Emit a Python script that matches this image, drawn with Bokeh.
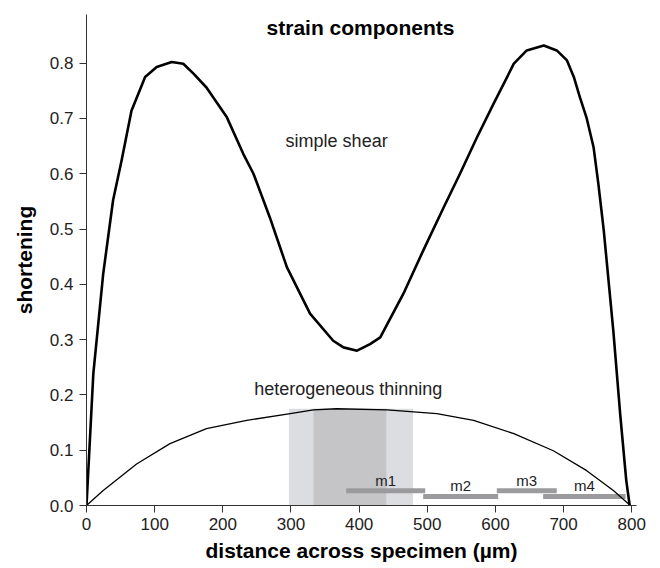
from bokeh.plotting import figure
from bokeh.models import Range1d, FixedTicker, PrintfTickFormatter, Label, ColumnDataSource
from bokeh.core.properties import value
from bokeh.embed import file_html
from bokeh.resources import INLINE

FONT = "Liberation Sans"

# simple shear curve
shear_x = [0, 10, 24.5, 39, 51.5, 66, 86, 103, 125, 142, 157, 176, 206, 230, 245, 269, 284,
           294, 328, 362, 377, 397, 416, 431, 465, 494, 524, 548, 573, 597, 627, 646, 671,
           690, 705, 715, 724, 734, 744, 751, 759, 773, 783, 792, 797]
shear_y = [0, 0.238, 0.419, 0.552, 0.624, 0.714, 0.775, 0.793, 0.802, 0.799, 0.781, 0.756,
           0.702, 0.636, 0.600, 0.521, 0.467, 0.431, 0.347, 0.298, 0.286, 0.280, 0.292,
           0.304, 0.383, 0.461, 0.539, 0.600, 0.666, 0.726, 0.799, 0.823, 0.832, 0.823,
           0.805, 0.775, 0.738, 0.700, 0.648, 0.582, 0.497, 0.316, 0.166, 0.045, 0.0]

# heterogeneous thinning curve
thin_x = [0, 24.5, 73.5, 122.5, 176, 235, 299, 333, 367, 441, 514, 568, 627, 685, 734, 773, 798]
thin_y = [0, 0.027, 0.075, 0.112, 0.139, 0.154, 0.166, 0.173, 0.175, 0.173, 0.166, 0.154,
          0.130, 0.099, 0.063, 0.027, 0]

# shaded ranges
shade_left = [297, 333]
shade_right = [479, 440]
shade_top = [0.175, 0.175]
shade_colors = ["#dcdde0", "#c5c5c8"]

# measurement windows
m_names = ["m1", "m2", "m3", "m4"]
m_start = [381, 494, 602, 670]
m_end = [497, 604, 690, 791]
m_level = [0.0266, 0.0163, 0.0266, 0.0163]
m_label_y = [0.046, 0.036, 0.046, 0.036]

x_ticks = [0, 100, 200, 300, 400, 500, 600, 700, 800]
y_ticks = [0.0, 0.1, 0.2, 0.3, 0.4, 0.5, 0.6, 0.7, 0.8]

p = figure(width=660, height=568, output_backend="svg", toolbar_location=None,
           x_range=Range1d(0, 807), y_range=Range1d(0, 0.888),
           min_border_left=86, min_border_right=24, min_border_top=14, min_border_bottom=63)
p.outline_line_color = None
p.xgrid.visible = False
p.ygrid.visible = False
p.background_fill_color = "white"
p.border_fill_color = "white"

p.quad(left=shade_left, right=shade_right, bottom=0, top=shade_top,
       fill_color=shade_colors, line_color=None)

msrc = ColumnDataSource(dict(name=m_names, start=m_start, end=m_end, y=m_level,
                             ly=m_label_y,
                             mid=[(a + b) / 2 for a, b in zip(m_start, m_end)]))
p.hbar(y="y", left="start", right="end", height=0.0088, source=msrc,
       fill_color="#9b9b9d", line_color=None)
p.text(x="mid", y="ly", text="name", source=msrc, text_align="center",
       text_baseline="middle", text_font=value(FONT), text_font_size="15px",
       text_color="#222222")

p.line(thin_x, thin_y, line_color="black", line_width=1.3, line_join="round")
p.line(shear_x, shear_y, line_color="black", line_width=2.6, line_join="round")

p.add_layout(Label(x=402, y=0.864, text="strain components", text_align="center",
                   text_baseline="middle", text_font=FONT, text_font_size="21px",
                   text_font_style="bold", text_color="black"))
p.add_layout(Label(x=367, y=0.66, text="simple shear", text_align="center",
                   text_baseline="middle", text_font=FONT, text_font_size="18px",
                   text_color="#222222"))
p.add_layout(Label(x=384, y=0.21, text="heterogeneous thinning", text_align="center",
                   text_baseline="middle", text_font=FONT, text_font_size="18px",
                   text_color="#222222"))

for ax in (p.xaxis[0], p.yaxis[0]):
    ax.axis_line_color = "#333333"
    ax.major_tick_line_color = "#333333"
    ax.major_tick_out = 7
    ax.major_tick_in = 0
    ax.minor_tick_line_color = None
    ax.major_label_text_font = FONT
    ax.major_label_text_font_size = "17px"
    ax.major_label_text_color = "#222222"
    ax.axis_label_text_font = FONT
    ax.axis_label_text_font_style = "bold"
    ax.axis_label_text_font_size = "21px"
    ax.axis_label_text_color = "black"

p.xaxis.ticker = FixedTicker(ticks=x_ticks)
p.yaxis.ticker = FixedTicker(ticks=y_ticks)
p.yaxis.formatter = PrintfTickFormatter(format="%.1f")
p.xaxis.axis_label = "distance across specimen (µm)"
p.yaxis.axis_label = "shortening"
p.xaxis.major_label_standoff = 5
p.yaxis.major_label_standoff = 6
p.xaxis.axis_label_standoff = 6
p.yaxis.axis_label_standoff = 11

open("out.html", "w").write(file_html(p, INLINE))
